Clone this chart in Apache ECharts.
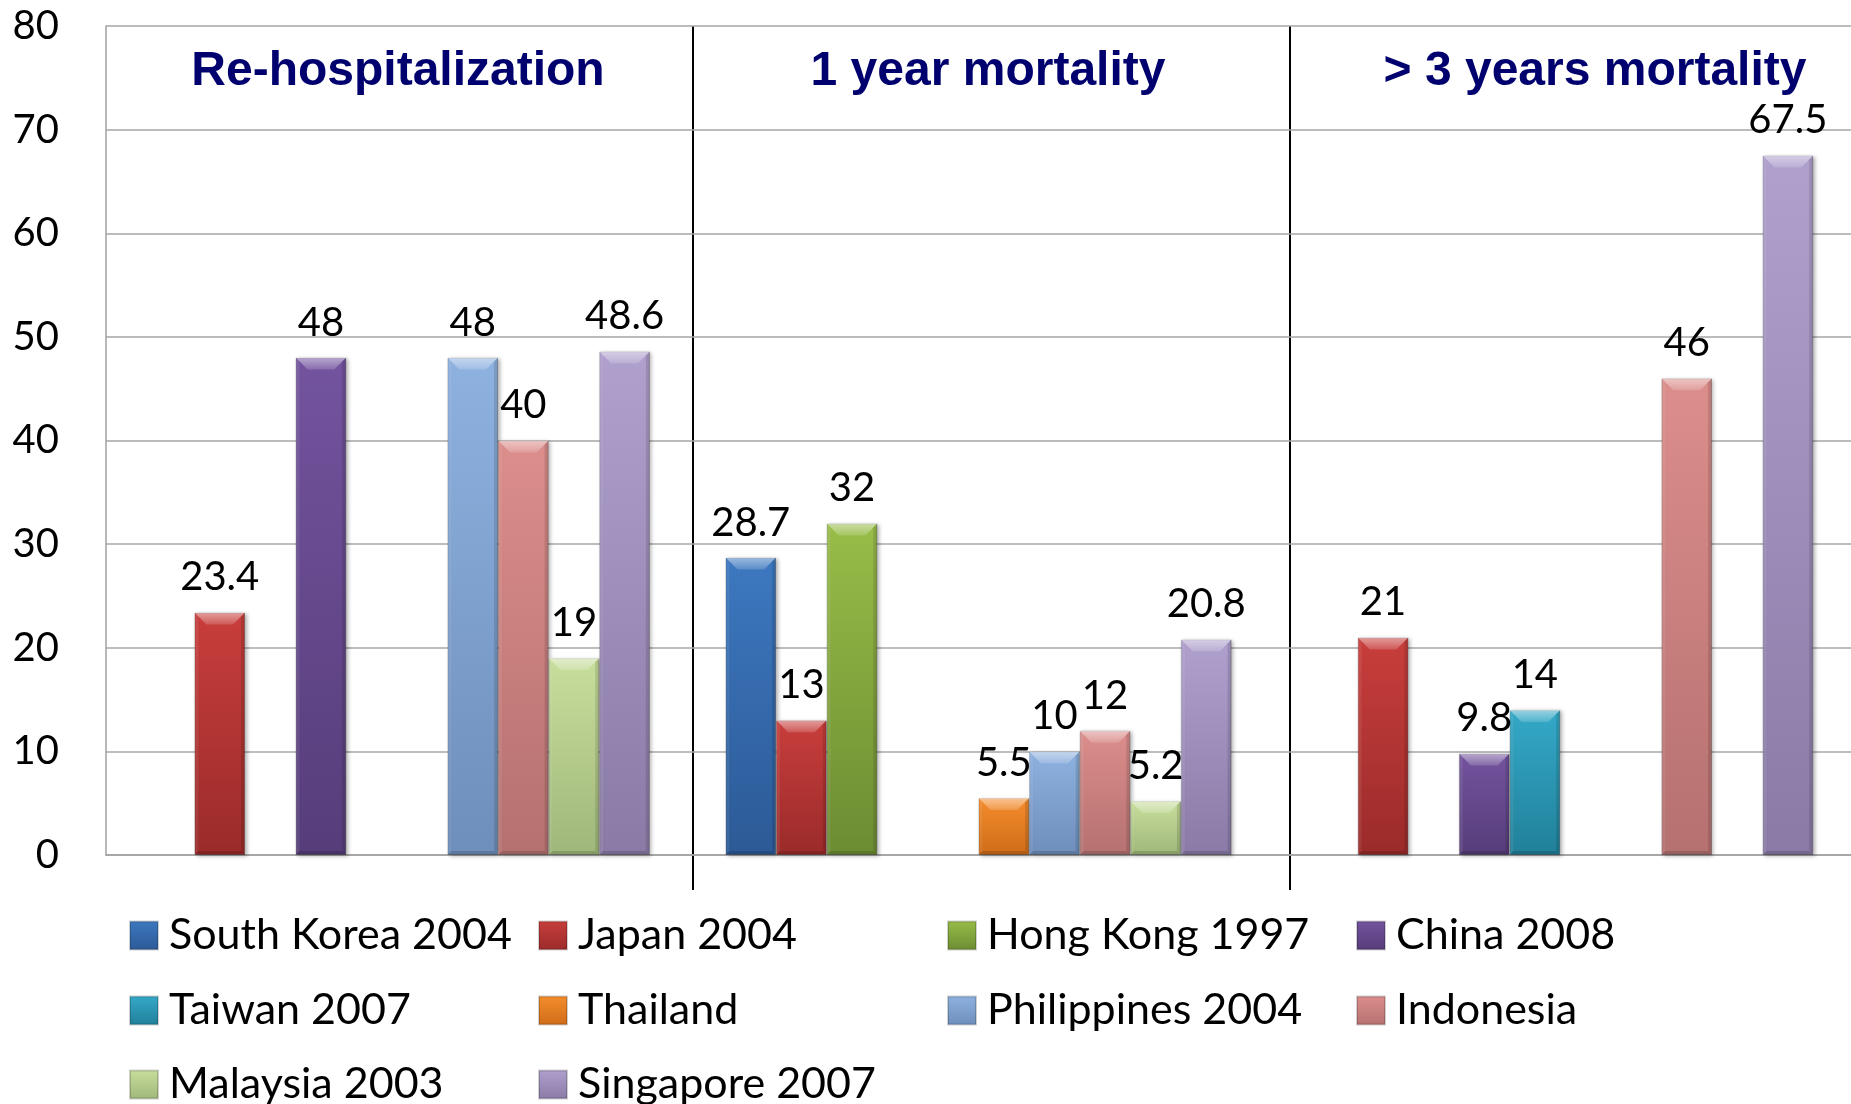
<!DOCTYPE html>
<html>
<head>
<meta charset="utf-8">
<script src="https://cdn.jsdelivr.net/npm/echarts@6/dist/echarts.min.js"></script>
<style>
  html, body { margin: 0; padding: 0; background: #fff; }
  #chart { width: 1851px; height: 1104px; }
</style>
</head>
<body>
<div id="chart"></div>
<script>
// categories (shown as headings inside the plot)
var categories = ['Re-hospitalization', '1 year mortality', '> 3 years mortality'];

// series names, in the order the bars sit inside each group
var seriesNames = ['South Korea 2004', 'Japan 2004', 'Hong Kong 1997', 'China 2008', 'Taiwan 2007',
                   'Thailand', 'Philippines 2004', 'Indonesia', 'Malaysia 2003', 'Singapore 2007'];

// values per series: [Re-hospitalization, 1 year mortality, > 3 years mortality]
var southKorea  = [null, 28.7, null];
var japan       = [23.4, 13, 21];
var hongKong    = [null, 32, null];
var china       = [48, null, 9.8];
var taiwan      = [null, null, 14];
var thailand    = [null, 5.5, null];
var philippines = [48, 10, null];
var indonesia   = [40, 12, 46];
var malaysia    = [19, 5.2, null];
var singapore   = [48.6, 20.8, 67.5];

var allValues = [southKorea, japan, hongKong, china, taiwan, thailand, philippines, indonesia, malaysia, singapore];

// top / bottom colours of each bar gradient
var barColors = [
    ['#3d78c0', '#2c5a96'],
    ['#c83e3c', '#9a2b2a'],
    ['#98bd48', '#6c8c32'],
    ['#73539e', '#563d7a'],
    ['#34a9c8', '#21809a'],
    ['#f48d2c', '#cf6c18'],
    ['#8eb2e0', '#6e8ebb'],
    ['#dc8e8c', '#b57170'],
    ['#c8de9c', '#9fb77a'],
    ['#b0a0ce', '#8a7aa6']
];

// legend grid: 4 columns x 3 rows, series index per cell (row major)
var legendCells = [
    [0, 1, 2, 3],
    [4, 5, 6, 7],
    [8, 9]
];
var legendColX = [129, 538, 947, 1356];
var legendRowY = [914, 989, 1063];

var GAP = 0.13;   // barCategoryGap as a fraction

var chart = echarts.init(document.getElementById('chart'));

var series = seriesNames.map(function (name, i) {
    return {
        name: name,
        type: 'bar',
        barGap: 0,
        barCategoryGap: (GAP * 100) + '%',
        data: allValues[i],
        itemStyle: {
            color: new echarts.graphic.LinearGradient(0, 0, 0, 1, [
                { offset: 0, color: barColors[i][0] },
                { offset: 1, color: barColors[i][1] }
            ]),
            borderColor: 'rgba(0,0,0,0.18)',
            borderWidth: 1,
            shadowColor: 'rgba(0,0,0,0.3)',
            shadowBlur: 4,
            shadowOffsetX: 2,
            shadowOffsetY: 1
        },
        label: {
            show: true,
            position: 'top',
            distance: 15,
            color: '#000',
            fontFamily: 'Lato',
            fontSize: 40
        }
    };
});

// bevel overlay: [category index, value, series index]
var bevelData = [];
allValues.forEach(function (vals, i) {
    vals.forEach(function (v, j) {
        if (v != null) bevelData.push([j, v, i]);
    });
});

function renderBevel(params, api) {
    var cat = api.value(0), idx = api.value(2);
    var base = api.coord([cat, 0]);
    var top = api.coord([cat, api.value(1)]);
    var band = api.size([1, 0])[0];
    var bw = band * (1 - GAP) / seriesNames.length;
    var x0 = base[0] - band * (1 - GAP) / 2 + idx * bw;
    var x1 = x0 + bw;
    var y0 = top[1], y1 = base[1];
    var h = y1 - y0;
    var b = Math.min(12, h / 2);
    var s = 4;
    var bb = Math.min(4, h / 4);
    return {
        type: 'group',
        children: [
            { type: 'polygon', shape: { points: [[x0, y0], [x1, y0], [x1 - b, y0 + b], [x0 + b, y0 + b]] },
              style: { fill: new echarts.graphic.LinearGradient(0, 0, 0, 1, [
                  { offset: 0, color: 'rgba(255,255,255,0.5)' },
                  { offset: 1, color: 'rgba(255,255,255,0.15)' }]) } },
            { type: 'polygon', shape: { points: [[x0, y0], [x0 + s, y0 + s], [x0 + s, y1 - bb], [x0, y1]] },
              style: { fill: 'rgba(255,255,255,0.08)' } },
            { type: 'polygon', shape: { points: [[x1, y0], [x1 - s, y0 + s], [x1 - s, y1 - bb], [x1, y1]] },
              style: { fill: 'rgba(0,0,0,0.12)' } },
            { type: 'polygon', shape: { points: [[x0, y1], [x0 + s, y1 - bb], [x1 - s, y1 - bb], [x1, y1]] },
              style: { fill: 'rgba(0,0,0,0.15)' } }
        ]
    };
}

series.push({
    type: 'custom',
    name: 'bevel',
    silent: true,
    z: 3,
    renderItem: renderBevel,
    encode: { x: 0, y: 1 },
    data: bevelData
});

// one legend component per cell so the columns line up
var legends = [];
legendCells.forEach(function (row, r) {
    row.forEach(function (si, c) {
        legends.push({
            orient: 'horizontal',
            left: legendColX[c],
            top: legendRowY[r],
            data: [seriesNames[si]],
            icon: 'rect',
            itemWidth: 28,
            itemHeight: 28,
            selectedMode: false,
            padding: 0,
            textStyle: {
                color: '#000',
                fontFamily: 'Lato',
                fontSize: 43,
                padding: [0, 0, 0, 6]
            }
        });
    });
});

var headingX = [398, 988, 1595];
var separatorX = [693, 1290];

var graphics = [];
categories.forEach(function (c, i) {
    graphics.push({
        type: 'text',
        x: headingX[i],
        y: 72,
        style: {
            text: c,
            fill: '#00006e',
            font: 'bold 48px "Liberation Sans", Arial, sans-serif',
            textAlign: 'center',
            textVerticalAlign: 'middle'
        }
    });
});
separatorX.forEach(function (x) {
    graphics.push({
        type: 'line',
        shape: { x1: x, y1: 26, x2: x, y2: 890 },
        style: { stroke: '#000', lineWidth: 2 }
    });
});

var option = {
    backgroundColor: '#fff',
    animation: false,
    grid: { left: 106, right: 0, top: 26, bottom: 249 },
    legend: legends,
    xAxis: {
        type: 'category',
        data: categories,
        axisLabel: { show: false },
        axisTick: { show: false },
        axisLine: { lineStyle: { color: '#a0a0a0', width: 1.5 } }
    },
    yAxis: {
        type: 'value',
        min: 0,
        max: 80,
        interval: 10,
        axisLine: { show: true, lineStyle: { color: '#a0a0a0', width: 1.5 } },
        axisTick: { show: false },
        splitLine: { lineStyle: { color: '#a6a6a6', width: 1.5 } },
        axisLabel: { color: '#000', fontFamily: 'Lato', fontSize: 40, margin: 47 }
    },
    series: series,
    graphic: graphics
};

chart.setOption(option);
</script>
</body>
</html>
